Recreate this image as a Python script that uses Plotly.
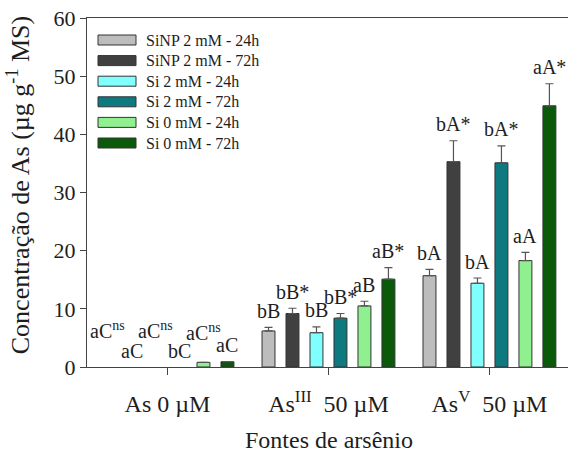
import plotly.graph_objects as go

groups = ["As 0 µM", "As<sup>III</sup>  50 µM", "As<sup>V</sup>  50 µM"]
series_names = ["SiNP 2 mM - 24h", "SiNP 2 mM - 72h", "Si 2 mM - 24h",
                "Si 2 mM - 72h", "Si 0 mM - 24h", "Si 0 mM - 72h"]
colors = ["#bdbdbd", "#404040", "#80ffff", "#0e7a80", "#90f090", "#0a5a0a"]

# values per series: [As0, AsIII, AsV]
values = [
    [0.0, 6.2, 15.7],
    [0.0, 9.2, 35.3],
    [0.0, 5.9, 14.4],
    [0.0, 8.4, 35.1],
    [0.8, 10.5, 18.3],
    [0.9, 15.1, 44.9],
]
errors = [
    [0.0, 0.6, 1.1],
    [0.0, 0.9, 3.6],
    [0.0, 1.0, 0.9],
    [0.0, 0.8, 2.9],
    [0.0, 0.8, 1.4],
    [0.0, 2.0, 3.8],
]
labels = [
    ["aC<sup>ns</sup>", "bB", "bA"],
    ["aC", "bB*", "bA*"],
    ["aC<sup>ns</sup>", "bB", "bA"],
    ["bC", "bB*", "bA*"],
    ["aC<sup>ns</sup>", "aB", "aA"],
    ["aC", "aB*", "aA*"],
]
# label heights for the As 0 µM group (no visible bars there)
as0_label_y = [3.9, 0.6, 3.9, 0.6, 3.6, 1.5]

FONT = "Liberation Serif, Times New Roman, serif"
TXT = "#1e1e1e"
fig = go.Figure()
for i, name in enumerate(series_names):
    ys = [v if v > 0 else None for v in values[i]]
    fig.add_trace(go.Bar(
        x=[0, 1, 2], y=ys, name=name,
        marker=dict(color=colors[i], line=dict(color="#333333", width=1)),
        error_y=dict(type="data", symmetric=False, array=errors[i],
                     arrayminus=[0, 0, 0], color="#555555", thickness=1.2, width=4),
        showlegend=False,
    ))

n = len(series_names)
bargap = 0.106
slot = (1 - bargap) / n
annotations = []
for i in range(n):
    for g in range(3):
        xpos = g - (1 - bargap) / 2 + slot * (i + 0.5)
        if g == 0:
            ypos = as0_label_y[i]
        else:
            ypos = values[i][g] + errors[i][g] + 0.6
        annotations.append(dict(x=xpos, y=ypos, xref="x", yref="y", text=labels[i][g],
                                showarrow=False, yanchor="bottom", xanchor="center",
                                font=dict(family=FONT, size=20, color=TXT)))

# y-axis title and x-axis title
annotations.append(dict(x=-0.142, y=0.52, xref="paper", yref="paper", textangle=-90,
                        xanchor="center", yanchor="middle",
                        text="Concentração de As (µg g<sup>-1</sup> MS)", showarrow=False,
                        font=dict(family=FONT, size=26, color=TXT)))
annotations.append(dict(x=0.504, y=-0.21, xref="paper", yref="paper", yanchor="middle",
                        xanchor="center",
                        text="Fontes de arsênio", showarrow=False,
                        font=dict(family=FONT, size=24, color=TXT)))

# custom legend
shapes = []
W, H = 568, 454
l, t, b = 87, 18, 87
pw, ph = W - l, H - t - b
for i, name in enumerate(series_names):
    yc = 40 + i * 20.6
    x0p, x1p = 98, 136
    shapes.append(dict(type="rect", xref="paper", yref="paper",
                       x0=(x0p - l) / pw, x1=(x1p - l) / pw,
                       y0=(H - b - (yc + 5)) / ph, y1=(H - b - (yc - 5)) / ph,
                       fillcolor=colors[i], line=dict(color="#333333", width=1)))
    annotations.append(dict(x=(144 - l) / pw, y=(H - b - yc) / ph, xref="paper", yref="paper",
                            text=name, showarrow=False, xanchor="left", yanchor="middle",
                            font=dict(family=FONT, size=16, color=TXT)))

fig.update_layout(
    width=W, height=H,
    margin=dict(l=l, r=0, t=t, b=b),
    paper_bgcolor="white", plot_bgcolor="white",
    barmode="group", bargap=bargap, bargroupgap=0.46,
    annotations=annotations, shapes=shapes,
    font=dict(family=FONT, color=TXT),
    xaxis=dict(range=[-0.5, 2.488], tickvals=[0, 1, 2], ticktext=groups,
               showline=True, linecolor="#444444", linewidth=1.2, mirror=True,
               ticks="outside", ticklen=7, tickcolor="#444444",
               ticklabelstandoff=8,
               tickfont=dict(family=FONT, size=24, color=TXT),
               showgrid=False, zeroline=False),
    yaxis=dict(range=[0, 60], tickvals=[0, 10, 20, 30, 40, 50, 60],
               showline=True, linecolor="#444444", linewidth=1.2,
               ticks="outside", ticklen=6, tickcolor="#444444",
               tickfont=dict(family=FONT, size=22, color=TXT),
               showgrid=False, zeroline=False),
)
fig.write_html("out.html")
